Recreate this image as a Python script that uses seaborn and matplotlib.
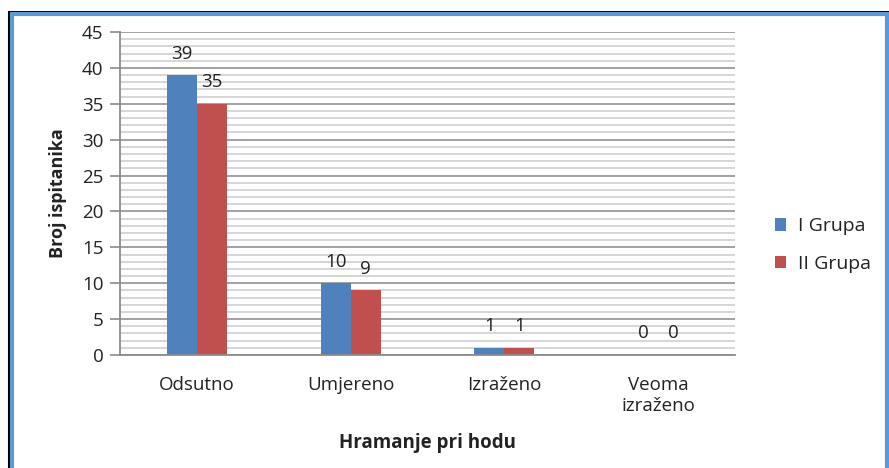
import matplotlib
matplotlib.use('Agg')
import matplotlib.pyplot as plt
from matplotlib.patches import Rectangle
from matplotlib.ticker import MultipleLocator
import seaborn as sns
import pandas as pd

# Chart data
categories = ['Odsutno', 'Umjereno', 'Izraženo', 'Veoma\nizraženo']
grupa_1 = [39, 10, 1, 0]
grupa_2 = [35, 9, 1, 0]
series_names = ['I Grupa', 'II Grupa']
colors = ['#4F81BD', '#C0504D']

df = pd.DataFrame({
    'kategorija': categories * 2,
    'broj': grupa_1 + grupa_2,
    'grupa': [series_names[0]] * len(categories) + [series_names[1]] * len(categories),
})

sns.set_style('white')
plt.rcParams['font.family'] = ['Open Sans', 'DejaVu Sans']
txt_color = '#222222'

fig = plt.figure(figsize=(8.89, 4.68), dpi=100)
ax = fig.add_axes([120 / 889, 1 - 355 / 468, 615 / 889, 323 / 468])

sns.barplot(data=df, x='kategorija', y='broj', hue='grupa', palette=colors,
            width=0.39, saturation=1, linewidth=0, ax=ax, legend=True)

# gridlines: light minor every 1, darker major every 5
ax.set_ylim(0, 45)
ax.set_xlim(-0.5, 3.5)
ax.yaxis.set_major_locator(MultipleLocator(5))
ax.yaxis.set_minor_locator(MultipleLocator(1))
ax.grid(axis='y', which='minor', color='#cfcfcf', linewidth=1.2)
ax.grid(axis='y', which='major', color='#9a9a9a', linewidth=1.3)
ax.set_axisbelow(True)

for s in ['top', 'right']:
    ax.spines[s].set_visible(False)
for s in ['left', 'bottom']:
    ax.spines[s].set_color('#8c8c8c')
    ax.spines[s].set_linewidth(1.3)

ax.tick_params(axis='y', which='major', direction='out', length=7, width=1.2,
               color='#8c8c8c', labelsize=13.5, pad=5, left=True)
ax.tick_params(axis='y', which='minor', length=0)
ax.tick_params(axis='x', length=0, labelsize=13.5, pad=15)
for lbl in ax.get_yticklabels():
    lbl.set_color(txt_color)
for lbl in ax.get_xticklabels():
    lbl.set_color(txt_color)
    lbl.set_verticalalignment('top')

# value labels above bars
for cont in ax.containers:
    ax.bar_label(cont, labels=[str(int(v)) for v in cont.datavalues],
                 padding=9, fontsize=13.5, color=txt_color)

ax.set_xlabel('Hramanje pri hodu', fontsize=13.5, fontweight='bold',
              color=txt_color, labelpad=13)
ax.set_ylabel('Broj ispitanika', fontsize=13, fontweight='bold',
              color=txt_color, labelpad=11)

# legend outside on the right
handles, labels = ax.get_legend_handles_labels()
ax.legend_.remove()
fig.legend(handles, labels, loc='center left', bbox_to_anchor=(757 / 889, 1 - 245 / 468),
           frameon=False, fontsize=14, handlelength=0.6, handleheight=0.6,
           handletextpad=0.6, labelspacing=1.0, labelcolor=txt_color)

# frame around the chart
fig.add_artist(Rectangle((8.5 / 889, -0.1), 1.2, 1 - 12 / 468 + 0.1,
                         transform=fig.transFigure, fill=False,
                         edgecolor='black', linewidth=2.2))
fig.add_artist(Rectangle((11.5 / 889, -0.1), (886.5 - 11.5) / 889, 1 - 14.5 / 468 + 0.1,
                         transform=fig.transFigure, fill=False,
                         edgecolor='#5B9BD5', linewidth=3))

fig.savefig('out.png', dpi=100)
